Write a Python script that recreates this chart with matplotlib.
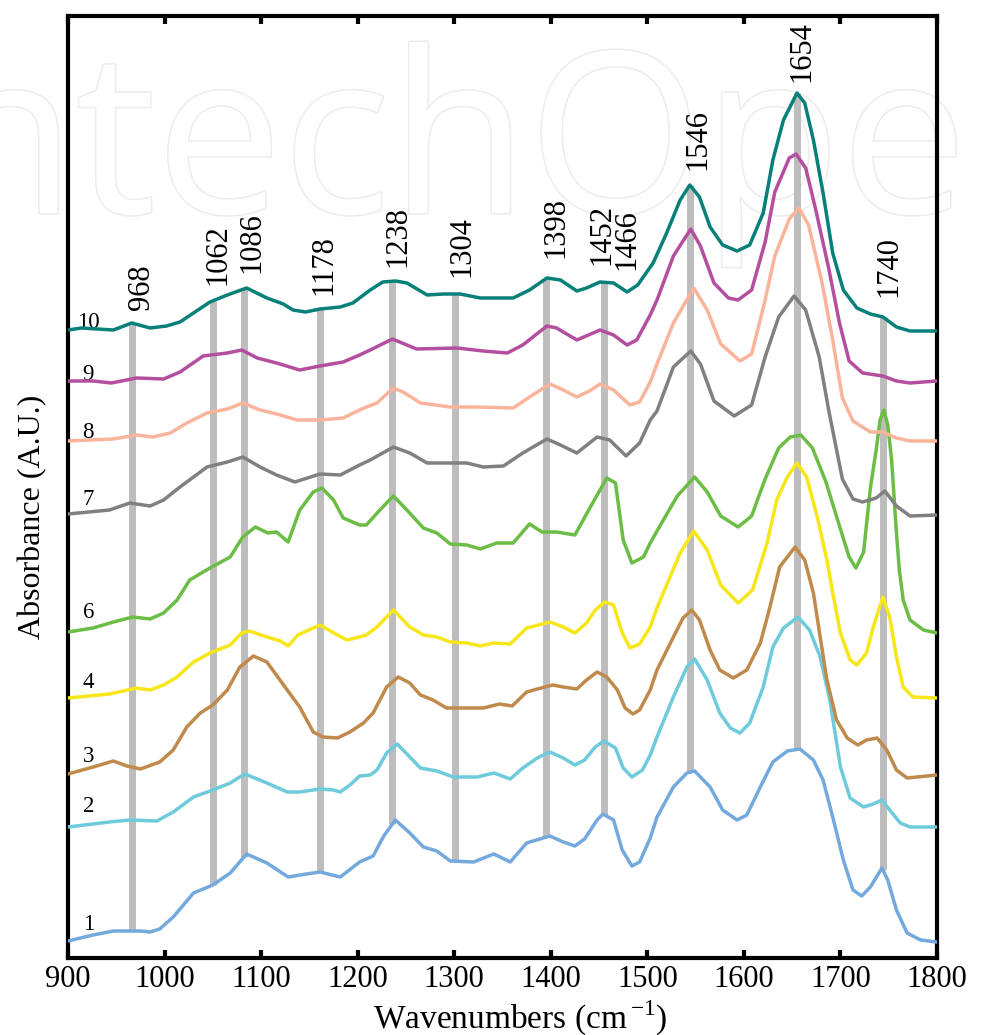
import numpy as np
import matplotlib
matplotlib.use("Agg")
import matplotlib.pyplot as plt
import matplotlib.patheffects as pe

plt.rcParams['font.family'] = ['Liberation Serif', 'DejaVu Serif']
plt.rcParams['mathtext.fontset'] = 'custom'
plt.rcParams['mathtext.rm'] = 'Liberation Serif'

# --- FTIR spectra (stacked, arbitrary units) ---
wn_1 = [900, 926, 947, 975, 985, 995, 1009, 1030, 1050, 1068, 1085, 1106, 1128, 1147, 1161, 1182, 1202, 1216, 1227, 1239,
        1254, 1268, 1282, 1296, 1320, 1341, 1358, 1375, 1399, 1413, 1425, 1435, 1448, 1454, 1465, 1474, 1484, 1492, 1503, 1510,
        1527, 1541, 1549, 1565, 1578, 1593, 1603, 1617, 1630, 1645, 1658, 1672, 1682, 1692, 1703, 1713, 1722, 1731, 1743, 1749,
        1758, 1769, 1783, 1800]
ab_1 = [17, 23, 27, 27, 26, 29, 41, 65, 73, 85, 104, 95, 81, 84, 86, 81, 96, 102, 122, 138,
        125, 111, 107, 97, 96, 104, 96, 115, 122, 116, 112, 119, 138, 144, 138, 108, 92, 96, 120, 141,
        171, 185, 187, 171, 148, 138, 143, 171, 196, 207, 209, 198, 178, 141, 98, 68, 62, 71, 90, 78,
        48, 25, 18, 16]

wn_2 = [900, 943, 964, 992, 1009, 1030, 1050, 1068, 1083, 1106, 1127, 1140, 1161, 1175, 1182, 1192, 1202, 1213, 1220, 1230,
        1241, 1254, 1265, 1282, 1299, 1324, 1341, 1358, 1371, 1386, 1399, 1413, 1425, 1435, 1446, 1455, 1467, 1475, 1484, 1495,
        1503, 1510, 1527, 1541, 1549, 1562, 1575, 1586, 1596, 1606, 1620, 1630, 1641, 1656, 1668, 1679, 1689, 1700, 1710, 1724,
        1734, 1743, 1751, 1762, 1772, 1800]
ab_2 = [131, 136, 138, 137, 146, 161, 168, 175, 184, 175, 166, 166, 169, 168, 166, 173, 182, 183, 188, 205,
        214, 201, 190, 187, 181, 181, 185, 179, 190, 200, 206, 200, 193, 198, 211, 217, 210, 190, 181, 188,
        203, 221, 261, 291, 299, 278, 245, 230, 225, 235, 271, 311, 330, 341, 328, 301, 258, 191, 160, 151,
        154, 158, 148, 135, 131, 131]

wn_3 = [900, 926, 947, 961, 975, 995, 1009, 1023, 1037, 1050, 1065, 1078, 1092, 1106, 1127, 1140, 1154, 1164, 1179, 1192,
        1206, 1216, 1230, 1242, 1254, 1265, 1278, 1292, 1330, 1347, 1360, 1375, 1386, 1402, 1413, 1427, 1437, 1448, 1458, 1469,
        1477, 1485, 1492, 1503, 1510, 1527, 1537, 1546, 1554, 1565, 1575, 1589, 1603, 1617, 1627, 1637, 1653, 1663, 1672, 1679,
        1686, 1696, 1707, 1718, 1727, 1738, 1748, 1758, 1769, 1800]
ab_3 = [184, 191, 197, 192, 189, 196, 208, 231, 245, 253, 268, 291, 302, 296, 268, 251, 226, 221, 220, 226,
        235, 245, 271, 281, 275, 263, 258, 250, 250, 254, 252, 266, 269, 273, 271, 269, 278, 286, 281, 268,
        250, 244, 248, 268, 288, 321, 340, 348, 338, 308, 288, 280, 288, 315, 351, 391, 411, 398, 365, 321,
        278, 238, 220, 213, 218, 220, 208, 188, 180, 183]

wn_4 = [900, 943, 971, 985, 999, 1013, 1030, 1047, 1068, 1080, 1088, 1106, 1120, 1128, 1138, 1161, 1179, 1189, 1202, 1209,
        1220, 1237, 1254, 1268, 1282, 1296, 1313, 1327, 1341, 1358, 1375, 1399, 1413, 1425, 1437, 1446, 1456, 1465, 1474, 1482,
        1492, 1503, 1510, 1520, 1534, 1548, 1562, 1576, 1594, 1609, 1624, 1634, 1645, 1655, 1665, 1676, 1686, 1692, 1700, 1710,
        1717, 1727, 1734, 1744, 1751, 1758, 1765, 1775, 1800]
ab_4 = [260, 264, 270, 268, 273, 281, 296, 305, 313, 325, 327, 321, 317, 312, 323, 333, 323, 318, 321, 323,
        331, 348, 331, 323, 321, 316, 315, 312, 315, 314, 330, 336, 331, 325, 335, 348, 356, 353, 325, 310,
        314, 331, 350, 373, 405, 427, 408, 373, 355, 368, 415, 458, 481, 495, 481, 441, 398, 365, 325, 298,
        293, 305, 331, 361, 341, 301, 271, 261, 260]

wn_6 = [900, 926, 947, 967, 985, 999, 1013, 1026, 1047, 1068, 1081, 1094, 1107, 1116, 1128, 1140, 1154, 1163, 1175, 1185,
        1202, 1209, 1223, 1237, 1251, 1268, 1282, 1296, 1313, 1327, 1344, 1361, 1378, 1391, 1406, 1425, 1441, 1458, 1467, 1475,
        1484, 1496, 1503, 1513, 1531, 1549, 1562, 1576, 1594, 1608, 1622, 1636, 1648, 1659, 1671, 1685, 1699, 1709, 1716, 1724,
        1731, 1737, 1741, 1745, 1749, 1753, 1758, 1761, 1765, 1772, 1786, 1800]
ab_6 = [326, 330, 336, 341, 339, 345, 358, 378, 390, 401, 421, 431, 425, 426, 416, 448, 466, 470, 458, 440,
        433, 433, 448, 462, 448, 430, 425, 414, 413, 409, 415, 415, 434, 426, 426, 423, 451, 480, 475, 418,
        395, 401, 415, 432, 462, 481, 466, 442, 431, 442, 479, 510, 521, 523, 510, 476, 432, 401, 390, 406,
        470, 508, 538, 548, 533, 498, 425, 388, 358, 338, 328, 325]

wn_7 = [900, 943, 964, 985, 999, 1016, 1044, 1065, 1081, 1099, 1116, 1135, 1161, 1182, 1202, 1213, 1237, 1254, 1272, 1313,
        1330, 1351, 1371, 1396, 1410, 1427, 1448, 1461, 1478, 1492, 1503, 1510, 1527, 1545, 1555, 1569, 1590, 1608, 1622, 1636,
        1652, 1664, 1678, 1688, 1702, 1713, 1723, 1737, 1746, 1758, 1772, 1800]
ab_7 = [444, 448, 455, 452, 458, 471, 491, 496, 501, 491, 483, 476, 484, 483, 493, 498, 511, 505, 495, 495,
        491, 492, 505, 519, 513, 505, 521, 518, 502, 515, 538, 547, 591, 607, 594, 557, 542, 553, 601, 641,
        662, 648, 601, 547, 479, 459, 456, 460, 467, 452, 442, 443]

wn_8 = [900, 947, 971, 988, 1006, 1023, 1044, 1065, 1081, 1099, 1120, 1137, 1161, 1185, 1202, 1209, 1220, 1237, 1247, 1265,
        1296, 1324, 1361, 1378, 1399, 1413, 1427, 1440, 1451, 1465, 1482, 1492, 1503, 1510, 1527, 1548, 1562, 1576, 1596, 1608,
        1622, 1632, 1647, 1657, 1667, 1681, 1692, 1702, 1713, 1731, 1744, 1758, 1772, 1800]
ab_8 = [517, 519, 523, 521, 525, 535, 545, 549, 555, 548, 543, 538, 538, 540, 548, 551, 555, 570, 566, 555,
        551, 551, 550, 561, 574, 568, 561, 567, 574, 568, 553, 556, 576, 594, 635, 670, 648, 614, 597, 604,
        658, 702, 739, 750, 733, 675, 618, 560, 537, 526, 526, 520, 517, 517]

wn_9 = [900, 926, 945, 971, 999, 1016, 1040, 1065, 1080, 1096, 1116, 1140, 1161, 1185, 1202, 1213, 1236, 1261, 1303, 1330,
        1355, 1371, 1396, 1406, 1427, 1451, 1465, 1479, 1489, 1503, 1510, 1527, 1545, 1555, 1569, 1584, 1594, 1608, 1622, 1632,
        1647, 1654, 1664, 1674, 1688, 1699, 1709, 1723, 1744, 1758, 1772, 1800]
ab_9 = [577, 577, 575, 580, 579, 586, 602, 605, 608, 600, 595, 588, 592, 596, 603, 608, 619, 609, 610, 607,
        605, 613, 632, 630, 618, 628, 623, 613, 618, 643, 658, 702, 729, 712, 675, 660, 658, 668, 716, 766,
        800, 804, 790, 750, 689, 635, 597, 585, 582, 577, 575, 577]

wn_10 = [900, 914, 947, 966, 985, 1002, 1016, 1030, 1047, 1065, 1085, 1106, 1123, 1133, 1146, 1161, 1182, 1195, 1213, 1226,
         1239, 1251, 1272, 1289, 1306, 1327, 1347, 1361, 1378, 1396, 1410, 1427, 1437, 1451, 1465, 1479, 1490, 1506, 1520, 1534,
         1544, 1554, 1565, 1578, 1593, 1606, 1620, 1630, 1641, 1655, 1663, 1672, 1682, 1692, 1703, 1717, 1731, 1744, 1758, 1772,
         1800]
ab_10 = [628, 630, 628, 635, 630, 632, 636, 645, 656, 663, 670, 660, 654, 648, 646, 649, 651, 655, 668, 676,
         677, 675, 663, 664, 664, 660, 660, 660, 668, 680, 678, 667, 670, 676, 675, 666, 673, 695, 725, 758,
         773, 761, 731, 713, 707, 713, 745, 798, 838, 865, 855, 818, 765, 705, 668, 650, 644, 641, 631, 627,
         627]

curve_ids = ['1', '2', '3', '4', '6', '7', '8', '9', '10']
curve_colors = ['#74a9dd', '#6ecbdb', '#bf8a4c', '#f6e61a', '#6cbd45', '#808080', '#f9b49b', '#b44f9f', '#07807a']
curve_label_y = [28, 146, 196, 270, 340, 453, 520, 578, 630]

# band markers (grey bars) and their labels
band_wn = [966, 1050, 1082, 1161, 1236, 1301, 1395, 1455, 1544, 1655, 1744]
band_text = ['968', '1062', '1086', '1178', '1238', '1304', '1398', '1452', '1466', '1546', '1654', '1740']
band_text_x = [976, 1055, 1090, 1165, 1242, 1308, 1405, 1453, 1479, 1552, 1660, 1750]
band_text_y = [648, 673, 685, 663, 691, 681, 700, 693, 688, 788, 876, 661]

spectra = [(wn_1, ab_1), (wn_2, ab_2), (wn_3, ab_3), (wn_4, ab_4), (wn_6, ab_6),
           (wn_7, ab_7), (wn_8, ab_8), (wn_9, ab_9), (wn_10, ab_10)]

fig = plt.figure(figsize=(9.83, 10.35), dpi=100)
ax = fig.add_axes([68 / 983, 1 - 958 / 1035, 869 / 983, 942 / 1035])

# faint publisher watermark behind everything
ax.text(-125 / 983, 1 - 213 / 1035, 'IntechOpen', transform=fig.transFigure, fontsize=162,
        family='Open Sans', color='white', ha='left', va='baseline', zorder=0.5, clip_on=False,
        path_effects=[pe.withStroke(linewidth=2.2, foreground='#ececec')])

# grey bars span from the bottom spectrum to the top spectrum
bar_bottom = np.interp(band_wn, wn_1, ab_1)
bar_top = np.interp(band_wn, wn_10, ab_10)
ax.vlines(band_wn, bar_bottom, bar_top, colors='#bdbdbd', linewidth=5, zorder=1)

for (wn, ab), col in zip(spectra, curve_colors):
    ax.plot(wn, ab, color=col, linewidth=2.5, zorder=3)

for cid, y in zip(curve_ids, curve_label_y):
    ax.text(921, y, cid, fontsize=16.5, ha='center', va='baseline', zorder=2)

for txt, x, y in zip(band_text, band_text_x, band_text_y):
    ax.text(x, y, txt, fontsize=22, rotation=90, ha='center', va='bottom', zorder=4)

ax.set_xlim(900, 1800)
ax.set_ylim(0, 942)
ax.set_xticks(np.arange(900, 1801, 100))
ax.set_yticks([])
ax.tick_params(axis='x', direction='in', top=True, length=6, width=3, labelsize=22, pad=5)
for sp in ax.spines.values():
    sp.set_linewidth(3)

ax.set_xlabel(r'Wavenumbers (cm$^{\,\mathrm{-1}}$)', fontsize=24)
ax.xaxis.set_label_coords(0.521, -0.043)
ax.set_ylabel('Absorbance (A.U.)', fontsize=23)
ax.yaxis.set_label_coords(-0.024, 0.468)

fig.savefig('out.png', dpi=100)
